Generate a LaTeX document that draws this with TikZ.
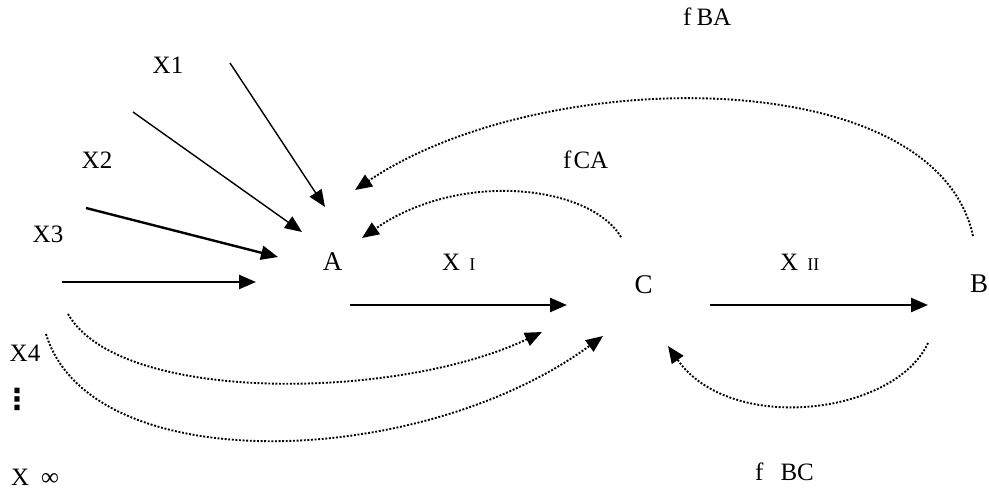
\documentclass[tikz,border=0pt]{standalone}
\usepackage{fontspec}
\setmainfont{Liberation Serif}
\newfontfamily\dvs{DejaVu Sans}
\usetikzlibrary{arrows.meta}
\tikzset{
  lbl/.style={inner sep=0pt, font=\fontsize{25}{30}\selectfont},
  big/.style={inner sep=0pt, font=\fontsize{27}{32}\selectfont},
  thinarr/.style={line width=1.4pt, -{Triangle[length=17pt,width=14pt]}},
  thickarr/.style={line width=2.4pt, -{Triangle[length=17pt,width=14pt]}},
  dotarr/.style={line width=1.9pt, dash pattern=on 1.9pt off 1.7pt, -{Triangle[length=17pt,width=14pt]}},
}
\begin{document}
\begin{tikzpicture}[x=1pt,y=-1pt]
\useasboundingbox (0,0) rectangle (989,493);
% labels
\node[big, anchor=base] (A) at (332.5,270) {A};
\node[big, anchor=base] (C) at (643.5,293) {C};
\node[big, anchor=base] (B) at (979,292) {B};
\node[lbl, anchor=base west] (XI) at (442,270) {X\hspace{9pt}{\fontsize{18}{20}\selectfont I}};
\node[lbl, anchor=base west] (XII) at (780,270) {X\hspace{9pt}{\fontsize{18}{20}\selectfont II}};
\node[lbl, anchor=base] (X1) at (168,73) {X1};
\node[lbl, anchor=base] (X2) at (97,168) {X2};
\node[lbl, anchor=base] (X3) at (48,242) {X3};
\node[lbl, anchor=base] (X4) at (25,361) {X4};
\node[inner sep=0pt, anchor=center, font=\dvs\bfseries\fontsize{29}{32}\selectfont] (vd) at (17,399) {⋮};
\node[lbl, anchor=base west] (Xinf) at (11,485) {X\hspace{12pt}∞};
\node[lbl, anchor=base west] (fBA) at (683,25) {f\hspace{5pt}BA};
\node[lbl, anchor=base west] (fCA) at (563,168) {f\hspace{2pt}CA};
\node[lbl, anchor=base west] (fBC) at (755,480) {f\hspace{17pt}BC};
% endpoints
\coordinate (p1s) at (230,63);  \coordinate (p1e) at (325,207);
\coordinate (p2s) at (133,112); \coordinate (p2e) at (302,232);
\coordinate (p3s) at (86,208);  \coordinate (p3e) at (278,257);
\coordinate (p4s) at (62,282);  \coordinate (p4e) at (256,282);
\coordinate (acs) at (350,305); \coordinate (ace) at (567,305);
\coordinate (cbs) at (710,305); \coordinate (cbe) at (928,305);
\coordinate (bas) at (973,236); \coordinate (bae) at (355,190);
\coordinate (cas) at (621,237); \coordinate (cae) at (362,238);
\coordinate (bcs) at (928,343); \coordinate (bce) at (668,346);
\coordinate (u1s) at (68,314);  \coordinate (u1e) at (542,332);
\coordinate (u2s) at (46,334);  \coordinate (u2e) at (603,336);
% solid arrows
\draw[thinarr] (p1s) -- (p1e);
\draw[thinarr] (p2s) -- (p2e);
\draw[thickarr] (p3s) -- (p3e);
\draw[thickarr] (p4s) -- (p4e);
\draw[thickarr] (acs) -- (ace);
\draw[thickarr] (cbs) -- (cbe);
% dotted feedback arrows
\draw[dotarr] (bas) .. controls (935,60) and (540,65) .. (bae);
\draw[dotarr] (cas) .. controls (590,185) and (460,170) .. (cae);
\draw[dotarr] (bcs) .. controls (895,415) and (730,435) .. (bce);
\draw[dotarr] (u1s) .. controls (120,405) and (400,400) .. (u1e);
\draw[dotarr] (u2s) .. controls (90,480) and (420,470) .. (u2e);
\end{tikzpicture}
\end{document}
